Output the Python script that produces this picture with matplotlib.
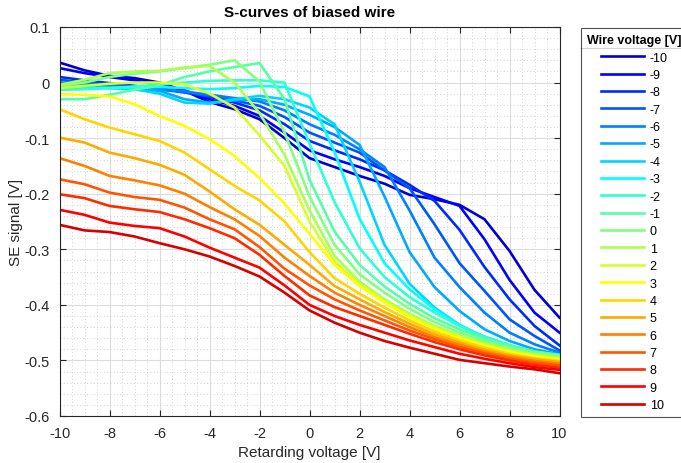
import numpy as np
import matplotlib
matplotlib.use("Agg")
import matplotlib.pyplot as plt
from matplotlib.lines import Line2D
from matplotlib.ticker import MultipleLocator

plt.rcParams['font.family'] = ['Liberation Sans', 'DejaVu Sans']
plt.rcParams['axes.unicode_minus'] = False

retarding = list(range(-10, 11))
wire_voltages = list(range(-10, 11))

# SE signal [V] per wire voltage, one value per retarding voltage -10..10
se_m10 = [0.036, 0.022, 0.012, 0.008, 0.000, -0.015, -0.035, -0.048, -0.066, -0.100, -0.136,
          -0.152, -0.168, -0.182, -0.202, -0.210, -0.220, -0.246, -0.303, -0.373, -0.423]
se_m9 = [0.026, 0.017, 0.010, 0.004, -0.004, -0.014, -0.030, -0.042, -0.060, -0.090, -0.122,
         -0.138, -0.152, -0.168, -0.190, -0.206, -0.222, -0.282, -0.355, -0.414, -0.450]
se_m8 = [0.010, 0.004, -0.001, -0.006, -0.010, -0.017, -0.026, -0.036, -0.050, -0.075, -0.105,
         -0.122, -0.138, -0.158, -0.184, -0.213, -0.265, -0.332, -0.390, -0.438, -0.473]
se_m7 = [0.005, 0.000, -0.004, -0.008, -0.012, -0.018, -0.024, -0.032, -0.042, -0.062, -0.090,
         -0.108, -0.126, -0.158, -0.190, -0.255, -0.325, -0.375, -0.426, -0.456, -0.482]
se_m6 = [0.000, -0.003, -0.006, -0.010, -0.013, -0.016, -0.022, -0.028, -0.034, -0.050, -0.075,
         -0.094, -0.120, -0.152, -0.230, -0.315, -0.368, -0.414, -0.450, -0.471, -0.486]
se_m5 = [-0.003, -0.006, -0.008, -0.010, -0.015, -0.030, -0.036, -0.032, -0.030, -0.040, -0.058,
         -0.080, -0.112, -0.205, -0.305, -0.368, -0.411, -0.444, -0.465, -0.480, -0.489]
se_m4 = [-0.006, -0.008, -0.010, -0.012, -0.020, -0.036, -0.038, -0.030, -0.024, -0.030, -0.045,
         -0.075, -0.178, -0.292, -0.362, -0.405, -0.436, -0.458, -0.474, -0.484, -0.492]
se_m3 = [-0.009, -0.010, -0.010, -0.009, -0.008, -0.010, -0.012, -0.010, -0.006, -0.008, -0.025,
         -0.125, -0.245, -0.325, -0.372, -0.408, -0.437, -0.458, -0.474, -0.485, -0.492]
se_m2 = [-0.013, -0.012, -0.010, -0.007, -0.004, 0.000, 0.003, 0.004, 0.004, 0.000, -0.110,
         -0.215, -0.298, -0.350, -0.386, -0.414, -0.438, -0.457, -0.472, -0.484, -0.491]
se_m1 = [-0.030, -0.030, -0.022, -0.013, -0.005, 0.010, 0.020, 0.028, 0.035, -0.030, -0.175,
         -0.268, -0.328, -0.367, -0.398, -0.424, -0.444, -0.461, -0.474, -0.484, -0.490]
se_0 = [-0.006, 0.000, 0.010, 0.016, 0.020, 0.026, 0.032, 0.040, 0.002, -0.090, -0.205,
        -0.292, -0.345, -0.378, -0.407, -0.431, -0.450, -0.465, -0.477, -0.486, -0.492]
se_1 = [-0.004, 0.005, 0.017, 0.020, 0.021, 0.027, 0.030, 0.000, -0.055, -0.130, -0.230,
        -0.312, -0.358, -0.390, -0.416, -0.438, -0.455, -0.469, -0.481, -0.489, -0.495]
se_2 = [-0.010, -0.006, -0.002, 0.000, 0.000, -0.003, -0.020, -0.045, -0.095, -0.150, -0.250,
        -0.322, -0.363, -0.393, -0.420, -0.441, -0.458, -0.472, -0.483, -0.491, -0.497]
se_3 = [-0.021, -0.022, -0.025, -0.039, -0.060, -0.078, -0.102, -0.132, -0.172, -0.218, -0.272,
        -0.328, -0.366, -0.396, -0.422, -0.443, -0.460, -0.474, -0.485, -0.493, -0.499]
se_4 = [-0.048, -0.066, -0.081, -0.093, -0.105, -0.126, -0.156, -0.186, -0.212, -0.250, -0.305,
        -0.352, -0.380, -0.405, -0.428, -0.448, -0.464, -0.477, -0.488, -0.496, -0.501]
se_5 = [-0.099, -0.108, -0.126, -0.136, -0.148, -0.166, -0.196, -0.228, -0.256, -0.292, -0.328,
        -0.366, -0.390, -0.413, -0.434, -0.453, -0.468, -0.481, -0.491, -0.498, -0.503]
se_6 = [-0.136, -0.150, -0.168, -0.176, -0.185, -0.200, -0.224, -0.246, -0.276, -0.315, -0.348,
        -0.378, -0.400, -0.420, -0.440, -0.458, -0.472, -0.484, -0.494, -0.501, -0.506]
se_7 = [-0.174, -0.183, -0.198, -0.206, -0.211, -0.225, -0.246, -0.264, -0.296, -0.335, -0.365,
        -0.390, -0.410, -0.428, -0.446, -0.462, -0.476, -0.487, -0.497, -0.504, -0.509]
se_8 = [-0.201, -0.208, -0.222, -0.228, -0.233, -0.246, -0.262, -0.280, -0.310, -0.348, -0.383,
        -0.404, -0.420, -0.436, -0.452, -0.467, -0.480, -0.491, -0.500, -0.508, -0.513]
se_9 = [-0.229, -0.238, -0.252, -0.258, -0.262, -0.277, -0.297, -0.315, -0.333, -0.365, -0.400,
        -0.420, -0.436, -0.450, -0.464, -0.476, -0.488, -0.497, -0.505, -0.512, -0.517]
se_10 = [-0.256, -0.266, -0.269, -0.277, -0.289, -0.300, -0.313, -0.330, -0.349, -0.378, -0.410,
         -0.432, -0.450, -0.465, -0.477, -0.488, -0.499, -0.505, -0.511, -0.516, -0.523]

curves = [se_m10, se_m9, se_m8, se_m7, se_m6, se_m5, se_m4, se_m3, se_m2, se_m1, se_0,
          se_1, se_2, se_3, se_4, se_5, se_6, se_7, se_8, se_9, se_10]


def matlab_jet(m):
    # same construction as MATLAB's jet(m)
    n = int(np.ceil(m / 4))
    u = np.concatenate([np.arange(1, n + 1) / n, np.ones(n - 1), np.arange(n, 0, -1) / n])
    g = int(np.ceil(n / 2)) - (1 if m % 4 == 1 else 0) + np.arange(1, len(u) + 1)
    cmap = np.zeros((m, 3))
    for ch, idxs in enumerate([g + n, g, g - n]):
        for idx, val in zip(idxs, u):
            if 1 <= idx <= m:
                cmap[idx - 1, ch] = val
    return cmap


colors = matlab_jet(len(wire_voltages))

fig = plt.figure(figsize=(6.81, 4.64), dpi=100)
ax = fig.add_axes([0.0874, 0.1013, 0.7342, 0.8384])

for wv, ys, c in zip(wire_voltages, curves, colors):
    ax.plot(retarding, ys, color=c, lw=1.9, label=str(wv))

ax.set_xlim(-10, 10)
ax.set_ylim(-0.6, 0.1)
ax.set_xticks(range(-10, 11, 2))
ax.set_yticks(np.arange(-0.6, 0.11, 0.1))
ax.set_yticklabels(['-0.6', '-0.5', '-0.4', '-0.3', '-0.2', '-0.1', '0', '0.1'])
ax.xaxis.set_minor_locator(MultipleLocator(0.5))
ax.yaxis.set_minor_locator(MultipleLocator(0.02))
ax.grid(True, which='major', color='#dcdcdc', lw=0.8)
ax.grid(True, which='minor', color='#c4c4c4', lw=0.6, ls=(0, (1, 3)))
ax.set_axisbelow(True)
ax.tick_params(which='both', direction='in', top=True, right=True, labelsize=10.5,
               color='#262626', labelcolor='#262626')
ax.tick_params(which='minor', length=0)
ax.tick_params(which='major', length=4)
ax.tick_params(axis='x', pad=7)
ax.tick_params(axis='y', pad=7)
for s in ax.spines.values():
    s.set_color('#262626')
    s.set_linewidth(0.8)

ax.set_title('S-curves of biased wire', fontsize=11, fontweight='bold', pad=8)
ax.set_xlabel('Retarding voltage [V]', fontsize=11, color='#262626', labelpad=4)
ax.set_ylabel('SE signal [V]', fontsize=11, color='#262626', labelpad=1)

leg = fig.legend(loc='upper left', bbox_to_anchor=(0.853, 0.9375), fontsize=9,
                 title='Wire voltage [V]', title_fontproperties={'weight': 'bold', 'size': 9},
                 frameon=True, fancybox=False, edgecolor='#262626', handlelength=3.4,
                 handletextpad=0.5, labelspacing=0.43, borderaxespad=0, borderpad=0.5)
leg.get_frame().set_linewidth(0.8)
fig.canvas.draw()
bb = leg.get_window_extent().transformed(fig.transFigure.inverted())
sep_y = bb.y1 - 19.5 / 464
fig.add_artist(Line2D([bb.x0, bb.x1], [sep_y, sep_y], color='#262626', lw=0.8,
                      transform=fig.transFigure))

fig.savefig('out.png', dpi=100)
